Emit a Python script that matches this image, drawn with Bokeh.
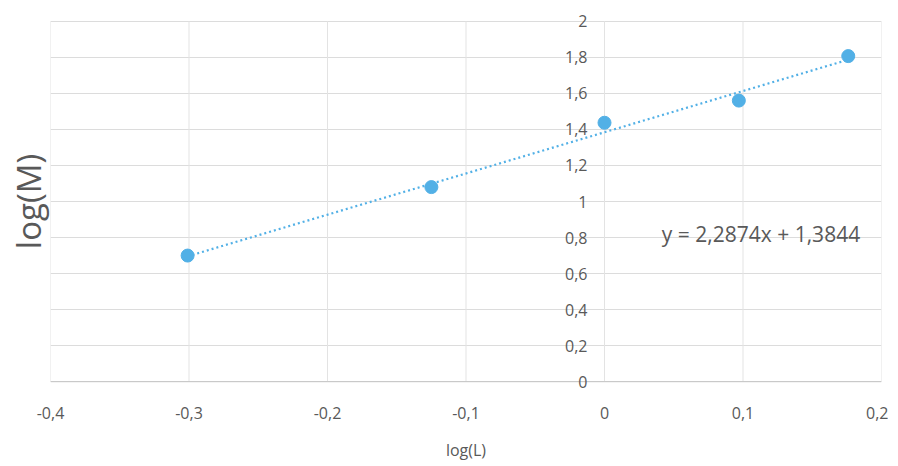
from bokeh.plotting import figure
from bokeh.models import FixedTicker, Label, LabelSet, ColumnDataSource, Span
from bokeh.core.properties import value
from bokeh.embed import file_html
from bokeh.resources import INLINE

# data
log_L = [-0.301, -0.125, 0.0, 0.097, 0.176]
log_M = [0.70, 1.08, 1.437, 1.56, 1.807]
slope = 2.2874
intercept = 1.3844
equation = "y = 2,2874x + 1,3844"
x_ticks = [-0.4, -0.3, -0.2, -0.1, 0.0, 0.1, 0.2]
x_tick_labels = ["-0,4", "-0,3", "-0,2", "-0,1", "0", "0,1", "0,2"]
y_ticks = [0, 0.2, 0.4, 0.6, 0.8, 1.0, 1.2, 1.4, 1.6, 1.8, 2.0]
y_tick_labels = ["0", "0,2", "0,4", "0,6", "0,8", "1", "1,2", "1,4", "1,6", "1,8", "2"]

BLUE = "#52b0e6"
GREY = "#595959"
FONT = "Open Sans"
Y_MIN, Y_MAX = 0.0, 2.0

p = figure(width=888, height=456, output_backend="svg", toolbar_location=None,
           x_range=(-0.4, 0.2), y_range=(-0.06, 2.06),
           frame_width=831, frame_height=382,
           min_border_left=50, min_border_top=10, min_border_right=7,
           min_border_bottom=60)
p.outline_line_color = None
p.background_fill_color = "white"
p.border_fill_color = "white"

# horizontal grid
p.ygrid.ticker = FixedTicker(ticks=y_ticks)
p.ygrid.grid_line_color = "#dcdcdc"
# vertical grid limited to the 0..2 band
p.xgrid.visible = False
p.segment(x0=x_ticks, y0=[Y_MIN] * len(x_ticks), x1=x_ticks, y1=[Y_MAX] * len(x_ticks),
          line_color="#e3e3e3", line_width=1)
# horizontal axis line at y = 0
p.add_layout(Span(location=0, dimension="width", line_color="#c4c4c4", line_width=1))

# x axis (labels only)
xa = p.xaxis[0]
xa.ticker = FixedTicker(ticks=x_ticks)
xa.major_label_overrides = {t: l for t, l in zip(x_ticks, x_tick_labels)}
xa.axis_line_color = None
xa.major_tick_line_color = None
xa.minor_tick_line_color = None
xa.major_label_standoff = 8
xa.major_label_text_font = FONT
xa.major_label_text_font_size = "16px"
xa.major_label_text_color = GREY
xa.axis_label = "log(L)"
xa.axis_label_text_font = FONT
xa.axis_label_text_font_size = "16px"
xa.axis_label_text_font_style = "normal"
xa.axis_label_text_color = GREY
xa.axis_label_standoff = 17

# left axis used for the title only
ya = p.yaxis[0]
ya.ticker = FixedTicker(ticks=[])
ya.axis_line_color = None
ya.major_tick_line_color = None
ya.minor_tick_line_color = None
ya.major_label_standoff = 0
ya.axis_label = "log(M)"
ya.axis_label_standoff = 0
ya.axis_label_text_font = FONT
ya.axis_label_text_font_size = "33px"
ya.axis_label_text_font_style = "normal"
ya.axis_label_text_color = GREY

# y tick labels placed along x = 0 (axis crossing)
ysrc = ColumnDataSource(dict(y=y_ticks, text=y_tick_labels, x=[0] * len(y_ticks)))
ylabels = LabelSet(x="x", y="y", text="text", source=ysrc, x_offset=-17,
                   text_align="right", text_baseline="middle",
                   text_font=value(FONT), text_font_size=value("16px"),
                   text_color=GREY)
p.add_layout(ylabels)

# trendline
tx = [min(log_L), max(log_L)]
ty = [slope * v + intercept for v in tx]
p.line(tx, ty, line_color=BLUE, line_width=2.2, line_dash="2 3")

# points
src = ColumnDataSource(dict(x=log_L, y=log_M))
p.scatter("x", "y", source=src, size=13, fill_color=BLUE, line_color=BLUE)

# equation
eq = Label(x=0.113, y=0.82, text=equation, text_align="center",
           text_baseline="middle", text_font=FONT, text_font_size="21px",
           text_color=GREY)
p.add_layout(eq)

open("out.html", "w").write(file_html(p, INLINE))
